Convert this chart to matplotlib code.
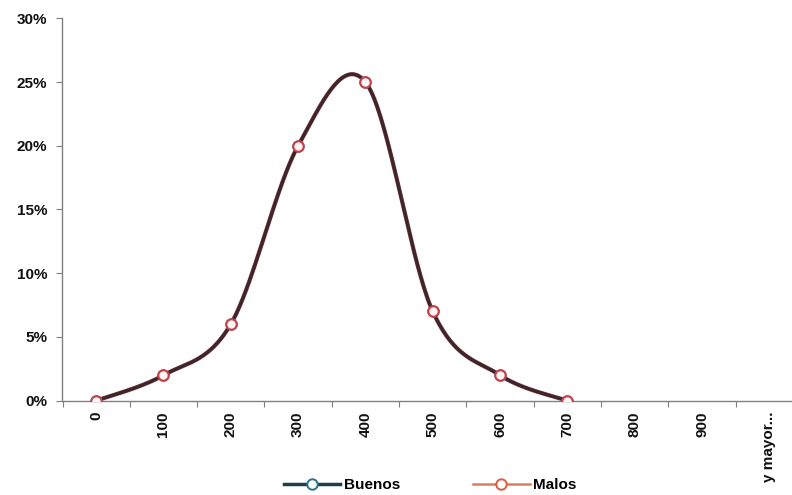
import numpy as np
import matplotlib
matplotlib.use("Agg")
import matplotlib.pyplot as plt
from matplotlib.lines import Line2D
from matplotlib.ticker import FuncFormatter, FixedLocator

categories = ["0", "100", "200", "300", "400", "500", "600", "700", "800", "900", "y mayor..."]
buenos = [0, 2, 6, 20, 25, 7, 2, 0, None, None, None]
malos = [0, 2, 6, 20, 25, 7, 2, 0, None, None, None]
yticks = [0, 5, 10, 15, 20, 25, 30]

plt.rcParams['font.family'] = ['Liberation Sans', 'DejaVu Sans']
plt.rcParams['font.weight'] = 'bold'


def excel_smooth(xs, ys, n=40):
    pts = np.array([[x, y] for x, y in zip(xs, ys)], dtype=float)
    out = []
    m = len(pts)
    for i in range(m - 1):
        p0 = pts[i - 1] if i > 0 else pts[i]
        p1 = pts[i]
        p2 = pts[i + 1]
        p3 = pts[i + 2] if i + 2 < m else pts[i + 1]
        c1 = p1 + (p2 - p0) / 6.0
        c2 = p2 - (p3 - p1) / 6.0
        t = np.linspace(0, 1, n)[:, None]
        seg = ((1 - t) ** 3) * p1 + 3 * ((1 - t) ** 2) * t * c1 + 3 * (1 - t) * t ** 2 * c2 + t ** 3 * p2
        if i > 0:
            seg = seg[1:]
        out.append(seg)
    out = np.vstack(out)
    return out[:, 0], out[:, 1]


fig = plt.figure(figsize=(7.92, 4.95), dpi=100)
ax = fig.add_axes([62.5 / 792, (495 - 400.7) / 495, 740.5 / 792, (400.7 - 18.3) / 495])

x_idx = np.arange(len(categories))

def valid(series):
    xs = [i for i, v in zip(x_idx, series) if v is not None]
    ys = [v / 100.0 for v in series if v is not None]
    return xs, ys

bx, by = valid(buenos)
mx, my = valid(malos)

sbx, sby = excel_smooth(bx, by)
smx, smy = excel_smooth(mx, my)

# Malos line underneath, Buenos line on top, markers above
ax.plot(smx, smy, color='#8a3a44', lw=3.0, solid_capstyle='round', zorder=2)
ax.plot(sbx, sby, color='#2c2426', lw=2.2, solid_capstyle='round', zorder=3, alpha=0.85)
ax.plot(bx, by, ls='none', marker='o', ms=7.5, mfc='white', mec='#2e6f8a', mew=1.4, zorder=4)
ax.plot(mx, my, ls='none', marker='o', ms=7.5, mfc='#fff5f5', mec='#c8404a', mew=1.5, zorder=5)

ax.set_xlim(-0.5, len(categories) - 0.5)
ax.set_ylim(0, 0.30)

ax.yaxis.set_major_locator(FixedLocator([v / 100.0 for v in yticks]))
ax.yaxis.set_major_formatter(FuncFormatter(lambda v, p: f"{v*100:.0f}%"))
ax.tick_params(axis='y', direction='out', length=4, width=0.8, color='#808080',
               labelsize=11, pad=7, labelcolor='#111111')

ax.set_xticks(x_idx)
ax.set_xticklabels(categories, rotation=90, fontsize=11, color='#111111')
ax.set_xticks(np.arange(-0.5, len(categories), 1.0), minor=True)
ax.tick_params(axis='x', which='major', length=0, pad=8)
ax.tick_params(axis='x', which='minor', direction='out', length=4, width=0.8, color='#808080')

for s in ['top', 'right']:
    ax.spines[s].set_visible(False)
for s in ['left', 'bottom']:
    ax.spines[s].set_color('#808080')
    ax.spines[s].set_linewidth(1.0)

handles = [
    Line2D([], [], color='#1f3d4c', lw=2.5, marker='o', ms=7.5, mfc='white', mec='#2e6f8a', mew=1.4),
    Line2D([], [], color='#e07a60', lw=1.8, marker='o', ms=7.5, mfc='white', mec='#e05a40', mew=1.4),
]
fig.legend(handles, ['Buenos', 'Malos'], loc='center', bbox_to_anchor=(430 / 792, 1 - 485 / 495),
           ncol=2, frameon=False, fontsize=11, handlelength=3.7, handletextpad=0.2,
           columnspacing=4.8)

fig.savefig('out.png', dpi=100)
